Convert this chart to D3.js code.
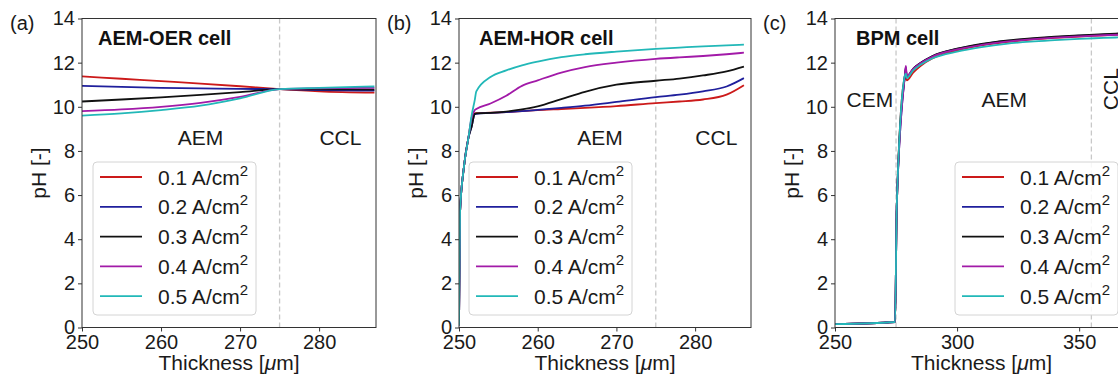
<!DOCTYPE html>
<html>
<head>
<meta charset="utf-8">
<script src="https://cdn.jsdelivr.net/npm/d3@7"></script>
<style>
  body { margin: 0; background: #fff; }
  svg { font-family: "Liberation Sans", Arial, sans-serif; display: block; }
</style>
</head>
<body>
<svg id="chart" width="1118" height="377"></svg>
<script>
// current densities shown in every legend
const currents = ["0.1", "0.2", "0.3", "0.4", "0.5"];
const lineColors = ["#cc1a1a", "#1f1f9c", "#111111", "#a21aa8", "#22b8b8"];
const phTicks = [0, 2, 4, 6, 8, 10, 12, 14];

// (a) AEM-OER cell
const thicknessA = [250, 255, 260, 265, 270, 275, 280, 287];
const phA = [
  [11.38, 11.27, 11.16, 11.05, 10.93, 10.8, 10.7, 10.64],
  [10.95, 10.9, 10.86, 10.83, 10.81, 10.8, 10.76, 10.73],
  [10.24, 10.33, 10.43, 10.54, 10.66, 10.8, 10.79, 10.78],
  [9.8, 9.88, 10.0, 10.18, 10.45, 10.8, 10.84, 10.86],
  [9.6, 9.7, 9.85, 10.05, 10.38, 10.8, 10.86, 10.92]
];
const ticksA = [250, 260, 270, 280];

// (b) AEM-HOR cell
const thicknessB = [250, 250.13, 250.6, 251.2, 251.6, 252, 252.2, 254, 256, 258, 260, 263, 266, 270, 275, 278, 281, 284, 286.2];
const phB = [
  [0.1, 5.2, 7.2, 8.6, 9.4, 9.7, 9.71, 9.73, 9.76, 9.8, 9.85, 9.9, 9.95, 10.03, 10.17, 10.24, 10.33, 10.55, 10.98],
  [0.1, 5.2, 7.2, 8.6, 9.1, 9.66, 9.68, 9.72, 9.76, 9.8, 9.86, 9.95, 10.05, 10.22, 10.44, 10.55, 10.7, 10.92, 11.3],
  [0.1, 5.2, 7.2, 8.6, 9.1, 9.68, 9.7, 9.72, 9.78, 9.88, 10.02, 10.35, 10.68, 11.0, 11.18, 11.28, 11.42, 11.6, 11.82],
  [0.1, 5.2, 7.2, 8.6, 9.5, 9.85, 9.9, 10.15, 10.5, 10.95, 11.2, 11.55, 11.8, 12.0, 12.17, 12.24, 12.3, 12.38, 12.45],
  [0.1, 5.2, 7.2, 8.6, 9.6, 10.3, 10.7, 11.35, 11.65, 11.88, 12.05, 12.25, 12.38, 12.5, 12.62, 12.68, 12.74, 12.78, 12.82]
];
const ticksB = [250, 260, 270, 280];

// (c) BPM cell
const thicknessC = [250, 274.6, 275.3, 278.6, 279.0, 279.4, 282, 285, 290, 300, 310, 320, 330, 340, 350, 360, 370];
const phC = [
  [0.15, 0.25, 5.5, 11.3, 11.35, 11.2, 11.55, 11.85, 12.2, 12.55, 12.78, 12.93, 13.04, 13.12, 13.18, 13.24, 13.3],
  [0.15, 0.25, 5.5, 11.4, 11.8, 11.35, 11.72, 11.98, 12.3, 12.62, 12.83, 12.98, 13.08, 13.16, 13.22, 13.27, 13.32],
  [0.15, 0.25, 5.5, 11.4, 11.7, 11.35, 11.72, 11.98, 12.3, 12.63, 12.85, 13.0, 13.1, 13.18, 13.24, 13.29, 13.34],
  [0.15, 0.25, 5.5, 11.4, 11.85, 11.4, 11.72, 11.97, 12.28, 12.6, 12.8, 12.95, 13.05, 13.13, 13.19, 13.24, 13.28],
  [0.15, 0.25, 5.5, 11.4, 11.5, 11.3, 11.65, 11.9, 12.2, 12.5, 12.7, 12.85, 12.95, 13.02, 13.08, 13.12, 13.16]
];
const ticksC = [250, 300, 350];

const plotTop = 18.5, plotBottom = 327.5;

const panels = [
  { id: "a", label: "(a)", title: "AEM-OER cell", left: 82, width: 294, domain: [250, 287.2],
    x: thicknessA, ph: phA, ticks: ticksA, dividers: [275],
    regions: [{ t: "AEM", x: 265, y: 8.25 }, { t: "CCL", x: 282.7, y: 8.25 }],
    titleDx: 16, legendLeft: 93 },
  { id: "b", label: "(b)", title: "AEM-HOR cell", left: 459, width: 292, domain: [250, 287.1],
    x: thicknessB, ph: phB, ticks: ticksB, dividers: [275],
    regions: [{ t: "AEM", x: 267.9, y: 8.25 }, { t: "CCL", x: 282.7, y: 8.25 }],
    titleDx: 20, legendLeft: 469 },
  { id: "c", label: "(c)", title: "BPM cell", left: 835, width: 293, domain: [250, 370],
    x: thicknessC, ph: phC, ticks: ticksC, dividers: [275, 355],
    regions: [{ t: "CEM", x: 264.3, y: 10.0 }, { t: "AEM", x: 319.3, y: 10.0 }, { t: "CCL", x: 363.5, y: 10.8, rot: true }],
    titleDx: 21, legendLeft: 955 }
];

const svg = d3.select("#chart");

panels.forEach(p => {
  const x = d3.scaleLinear().domain(p.domain).range([p.left, p.left + p.width]);
  const y = d3.scaleLinear().domain([0, 14]).range([plotBottom, plotTop]);
  const g = svg.append("g");

  g.append("clipPath").attr("id", "clip-" + p.id)
    .append("rect")
    .attr("x", p.left).attr("y", plotTop)
    .attr("width", p.width).attr("height", plotBottom - plotTop);

  // region dividers
  g.selectAll(".divider")
    .data(p.dividers)
    .enter()
    .append("line")
    .attr("x1", d => x(d)).attr("x2", d => x(d))
    .attr("y1", plotTop).attr("y2", plotBottom)
    .attr("stroke", "#c8c8c8")
    .attr("stroke-width", 1.3)
    .attr("stroke-dasharray", "5,3");

  // region labels
  p.regions.forEach(r => {
    const t = g.append("text")
      .attr("font-size", 21)
      .attr("fill", "#1a1a1a")
      .attr("text-anchor", "middle")
      .text(r.t);
    if (r.rot) {
      t.attr("dominant-baseline", "middle")
        .attr("transform", "translate(" + x(r.x) + "," + y(r.y) + ") rotate(-90)");
    } else {
      t.attr("x", x(r.x)).attr("y", y(r.y));
    }
  });

  // curves
  const line = d3.line()
    .x((d, i) => x(p.x[i]))
    .y(d => y(d))
    .curve(d3.curveMonotoneX);

  g.append("g")
    .attr("clip-path", "url(#clip-" + p.id + ")")
    .selectAll("path")
    .data(p.ph)
    .enter()
    .append("path")
    .attr("d", line)
    .attr("fill", "none")
    .attr("stroke", (d, i) => lineColors[i])
    .attr("stroke-width", 1.8);

  // frame
  g.append("rect")
    .attr("x", p.left).attr("y", plotTop)
    .attr("width", p.width).attr("height", plotBottom - plotTop)
    .attr("fill", "none")
    .attr("stroke", "#333")
    .attr("stroke-width", 1);

  // axes
  const xAxis = g.append("g")
    .attr("transform", "translate(0," + plotBottom + ")")
    .call(d3.axisBottom(x).tickValues(p.ticks).tickSize(4).tickSizeOuter(0).tickPadding(3));
  const yAxis = g.append("g")
    .attr("transform", "translate(" + p.left + ",0)")
    .call(d3.axisLeft(y).tickValues(phTicks).tickSize(4).tickSizeOuter(0).tickPadding(3));
  [xAxis, yAxis].forEach(a => {
    a.select(".domain").remove();
    a.selectAll("line").attr("stroke", "#333");
    a.selectAll("text")
      .attr("font-size", 20)
      .attr("font-family", "\"Liberation Sans\", Arial, sans-serif")
      .attr("fill", "#1a1a1a");
  });

  // axis titles
  const xt = g.append("text")
    .attr("x", p.left + p.width / 2)
    .attr("y", 370)
    .attr("text-anchor", "middle")
    .attr("font-size", 21)
    .attr("fill", "#1a1a1a");
  xt.append("tspan").text("Thickness [");
  xt.append("tspan").attr("font-style", "italic").text("μ");
  xt.append("tspan").text("m]");

  g.append("text")
    .attr("transform", "translate(" + (p.left - 42) + "," + ((plotTop + plotBottom) / 2) + ") rotate(-90)")
    .attr("text-anchor", "middle")
    .attr("dominant-baseline", "middle")
    .attr("font-size", 21)
    .attr("fill", "#1a1a1a")
    .text("pH [-]");

  // panel label and title
  g.append("text")
    .attr("x", p.left - 72)
    .attr("y", 30)
    .attr("font-size", 20)
    .attr("fill", "#1a1a1a")
    .text(p.label);
  g.append("text")
    .attr("x", p.left + p.titleDx)
    .attr("y", 45)
    .attr("font-size", 20)
    .attr("font-weight", "bold")
    .attr("fill", "#111")
    .text(p.title);

  // legend
  const lg = g.append("g").attr("transform", "translate(" + p.legendLeft + ",162)");
  lg.append("rect")
    .attr("width", 163).attr("height", 153)
    .attr("rx", 4)
    .attr("fill", "rgba(255,255,255,0.85)")
    .attr("stroke", "#d4d4d4")
    .attr("stroke-width", 1);
  const rows = lg.selectAll(".row")
    .data(currents)
    .enter()
    .append("g")
    .attr("transform", (d, i) => "translate(0," + (15 + i * 29.8) + ")");
  rows.append("line")
    .attr("x1", 7).attr("x2", 49)
    .attr("stroke", (d, i) => lineColors[i])
    .attr("stroke-width", 1.8);
  const lt = rows.append("text")
    .attr("x", 65)
    .attr("y", 7.5)
    .attr("font-size", 21)
    .attr("fill", "#1a1a1a");
  lt.append("tspan").text(d => d + " A/cm");
  lt.append("tspan").attr("font-size", 15).attr("dy", -9).text("2");
});
</script>
</body>
</html>
